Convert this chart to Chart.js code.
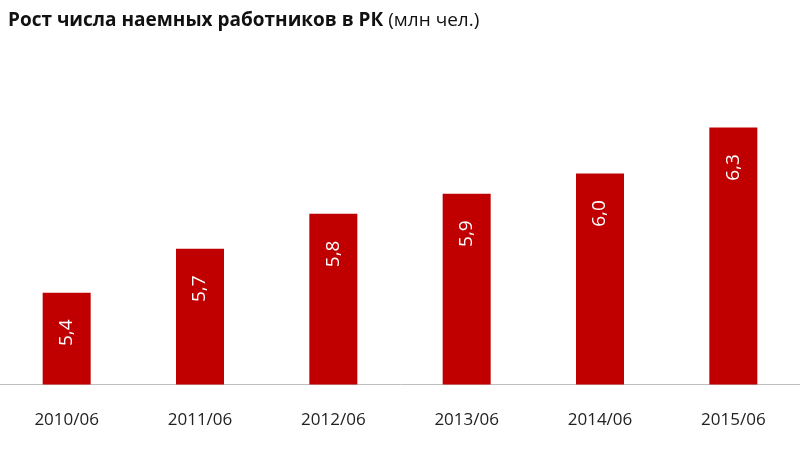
<!DOCTYPE html>
<html><head><meta charset="utf-8">
<script src="https://cdn.jsdelivr.net/npm/chart.js@4"></script>
<style>
body{margin:0;background:#fff;width:800px;height:464px;overflow:hidden;font-family:"Open Sans",sans-serif}
#t{position:absolute;left:8px;top:6px;font-size:19px;color:#111}
#w{position:absolute;left:0;top:0;width:800px;height:464px}
</style></head><body>
<div id="w"><canvas id="c"></canvas></div>
<div id="t"><b>Рост числа наемных работников в РК</b> (млн чел.)</div>
<script>
const categories=["2010/06","2011/06","2012/06","2013/06","2014/06","2015/06"];
const values=[5.40,5.64,5.83,5.94,6.05,6.30];
const labels=["5,4","5,7","5,8","5,9","6,0","6,3"];
const valLabels={id:"vl",afterDatasetsDraw(ch){const ctx=ch.ctx;ch.getDatasetMeta(0).data.forEach((b,i)=>{ctx.save();ctx.translate(b.x,b.y+40);ctx.rotate(-Math.PI/2);ctx.fillStyle="#fff";ctx.font="19px 'Open Sans'";ctx.textAlign="center";ctx.textBaseline="middle";ctx.fillText(labels[i],0,0);ctx.restore();});}};
new Chart(document.getElementById("c"),{type:"bar",data:{labels:categories,datasets:[{data:values,backgroundColor:"#c00000",barPercentage:0.36,categoryPercentage:1}]},
options:{responsive:true,maintainAspectRatio:false,animation:false,layout:{padding:{top:100,left:0,right:0,bottom:9}},
plugins:{legend:{display:false},tooltip:{enabled:false}},
scales:{y:{display:false,min:4.9,max:6.45},x:{grid:{display:false,drawTicks:false},border:{color:"#bfbfbf"},ticks:{color:"#222",font:{size:17,family:"Open Sans"},padding:25}}}},
plugins:[valLabels]});
</script></body></html>
